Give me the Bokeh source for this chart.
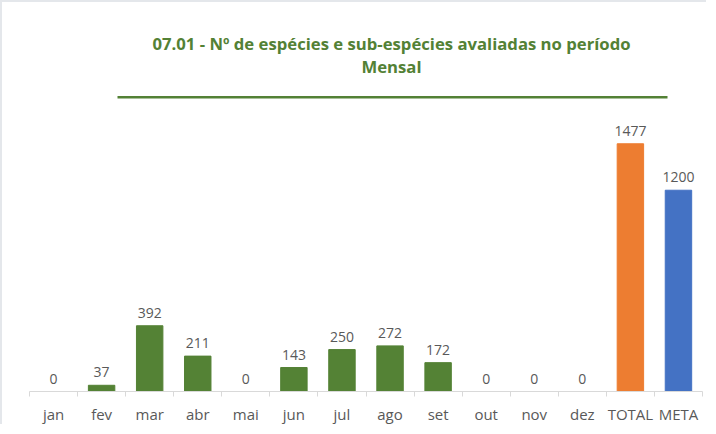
from bokeh.plotting import figure
from bokeh.models import (ColumnDataSource, LabelSet, Label, FixedTicker, Range1d,
                          BoxAnnotation)
from bokeh.core.properties import value
from bokeh.embed import file_html
from bokeh.resources import INLINE

categories = ["jan", "fev", "mar", "abr", "mai", "jun", "jul", "ago", "set",
              "out", "nov", "dez", "TOTAL", "META"]
values = [0, 37, 392, 211, 0, 143, 250, 272, 172, 0, 0, 0, 1477, 1200]
bar_colors = ["#548235"] * 12 + ["#ED7D31", "#4472C4"]
title_line1 = "07.01 - Nº de espécies e sub-espécies avaliadas no período"
title_line2 = "Mensal"

B = 2                     # css border width
W, H = 706, 424
ML, MR, MT, MB = 27, 6, 0, 33
n = len(categories)
fw = W - ML - MR
fh = H - MT - MB
PX_PER_UNIT = 249 / 1477
Y_END = fh / PX_PER_UNIT

src = ColumnDataSource(dict(x=list(range(n)), top=values, color=bar_colors,
                            label=[str(v) for v in values]))

p = figure(width=W, height=H, output_backend="svg", toolbar_location=None,
           x_range=Range1d(-0.5, n - 0.5), y_range=Range1d(0, Y_END),
           min_border_left=ML, min_border_right=MR, min_border_top=MT,
           min_border_bottom=MB,
           styles={"border-left": "2px solid #e4e7eb", "border-top": "2px solid #e4e7eb"})
p.outline_line_color = None
p.xgrid.visible = False
p.ygrid.visible = False
p.yaxis.visible = False

p.vbar(x="x", top="top", width=0.55, color="color", source=src)

p.add_layout(LabelSet(x="x", y="top", text="label", source=src,
                      text_align="center", text_baseline="alphabetic",
                      y_offset=8, text_font=value("Open Sans"),
                      text_font_size="14px", text_color="#595959"))

ax = p.xaxis[0]
ax.ticker = FixedTicker(ticks=list(range(n)),
                        minor_ticks=[i - 0.5 for i in range(n + 1)])
ax.major_label_overrides = {i: c for i, c in enumerate(categories)}
ax.major_tick_out = 0
ax.major_tick_in = 0
ax.minor_tick_out = 5
ax.minor_tick_in = 0
ax.minor_tick_line_color = "#d9d9d9"
ax.axis_line_color = "#d9d9d9"
ax.major_label_text_font = "Open Sans"
ax.major_label_text_font_size = "15px"
ax.major_label_text_color = "#595959"
ax.major_label_standoff = 7

# helpers: picture pixel -> data coords (for placing title annotations)
def dx(px):
    return (px - B - ML) / fw * n - 0.5
def dy(py):
    return (H - MB - (py - B)) / fh * Y_END

TCX = 391
green = "#538135"
for txt, py in [(title_line1, 43), (title_line2, 66)]:
    p.add_layout(Label(x=dx(TCX), y=dy(py), text=txt, text_align="center",
                       text_baseline="alphabetic", text_font="Open Sans",
                       text_font_style="bold", text_font_size="16.7px",
                       text_color=green))
p.add_layout(BoxAnnotation(left=dx(117), right=dx(667), top=dy(96), bottom=dy(98.5),
                           fill_color=green, fill_alpha=1.0, line_color=None))

open("out.html", "w").write(file_html(p, INLINE))
